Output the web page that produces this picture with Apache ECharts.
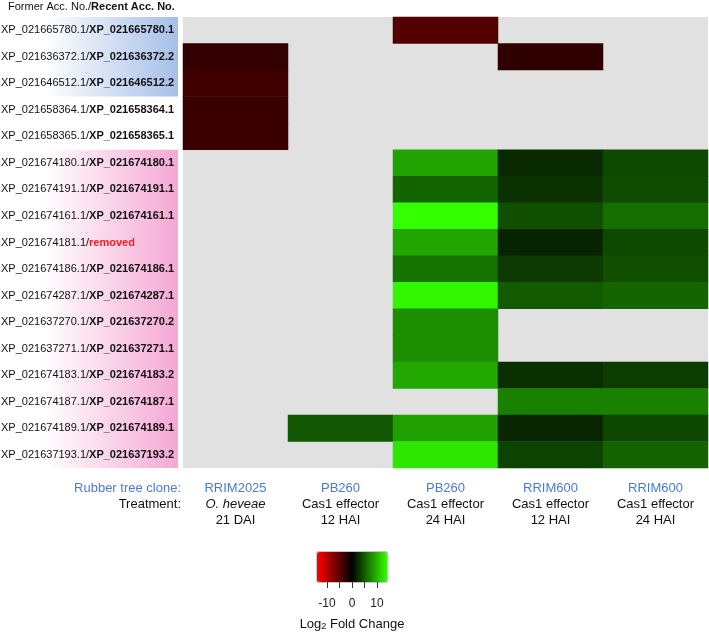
<!DOCTYPE html>
<html>
<head>
<meta charset="UTF-8">
<title>Log2 fold change heatmap</title>
<script src="https://cdn.jsdelivr.net/npm/echarts@6/dist/echarts.min.js"></script>
<style>
  html, body { margin: 0; padding: 0; background: #fff; }
  #main { width: 709px; height: 632px; }
</style>
</head>
<body>
<div id="main"></div>
<script>
// accession numbers, top to bottom
var formerAcc = ['XP_021665780.1', 'XP_021636372.1', 'XP_021646512.1', 'XP_021658364.1', 'XP_021658365.1',
  'XP_021674180.1', 'XP_021674191.1', 'XP_021674161.1', 'XP_021674181.1', 'XP_021674186.1',
  'XP_021674287.1', 'XP_021637270.1', 'XP_021637271.1', 'XP_021674183.1', 'XP_021674187.1',
  'XP_021674189.1', 'XP_021637193.1'];
var recentAcc = ['XP_021665780.1', 'XP_021636372.2', 'XP_021646512.2', 'XP_021658364.1', 'XP_021658365.1',
  'XP_021674180.1', 'XP_021674191.1', 'XP_021674161.1', 'removed', 'XP_021674186.1',
  'XP_021674287.1', 'XP_021637270.2', 'XP_021637271.1', 'XP_021674183.2', 'XP_021674187.1',
  'XP_021674189.1', 'XP_021637193.2'];

// columns
var clones = ['RRIM2025', 'PB260', 'PB260', 'RRIM600', 'RRIM600'];
var treatments = ['O. heveae', 'Cas1 effector', 'Cas1 effector', 'Cas1 effector', 'Cas1 effector'];
var times = ['21 DAI', '12 HAI', '24 HAI', '12 HAI', '24 HAI'];

// log2 fold change per column (null = no data, grey)
var rrim2025_21dai = [null, -2.8, -3.5, -3.2, -3.2, null, null, null, null, null, null, null, null, null, null, null, null];
var pb260_12hai = [null, null, null, null, null, null, null, null, null, null, null, null, null, null, null, 4.7, null];
var pb260_24hai = [-4.5, null, null, null, null, 8.9, 5.5, 14.0, 9.1, 6.3, 13.5, 7.8, 7.8, 9.2, null, 8.8, 12.6];
var rrim600_12hai = [null, -2.6, null, null, null, 2.2, 2.7, 4.3, 2.0, 3.2, 5.0, null, null, 2.5, 7.0, 2.1, 3.7];
var rrim600_24hai = [null, null, null, null, null, 4.0, 4.1, 6.0, 4.0, 4.3, 5.5, null, null, 3.3, 7.1, 3.9, 5.4];
var columnValues = [rrim2025_21dai, pb260_12hai, pb260_24hai, rrim600_12hai, rrim600_24hai];

// colour key
var scaleMin = -14, scaleMax = 14;
var keyTicks = [-10, -5, 0, 5, 10];
var keyLabels = [-10, 0, 10];

var data = [];
columnValues.forEach(function (col, x) {
  col.forEach(function (v, y) {
    if (v !== null) data.push([x, y, v]);
  });
});

var GRID_TOP = 17, GRID_BOTTOM = 164, GRID_LEFT = 183;
var rowH = (632 - GRID_TOP - GRID_BOTTOM) / formerAcc.length;
var FONT = '"Liberation Sans", Arial, Helvetica, sans-serif';
var BLUE = '#4a7bd4';

// shaded label blocks
var bands = [
  { from: 0, to: 2, color: '#a6bfe8' },
  { from: 5, to: 16, color: '#f4a8d4' }
];
var graphics = bands.map(function (b) {
  return {
    type: 'rect',
    shape: { x: 0, y: GRID_TOP + b.from * rowH, width: 178, height: (b.to - b.from + 1) * rowH },
    style: {
      fill: new echarts.graphic.LinearGradient(0, 0, 1, 0, [
        { offset: 0, color: '#ffffff' },
        { offset: 0.25, color: '#ffffff' },
        { offset: 1, color: b.color }
      ])
    },
    z: -1
  };
});
graphics.push({
  type: 'text', x: 181, y: 488,
  style: { text: 'Rubber tree clone:', fill: BLUE, font: '13px ' + FONT, textAlign: 'right', textVerticalAlign: 'middle' }
});
graphics.push({
  type: 'text', x: 181, y: 504,
  style: { text: 'Treatment:', fill: '#111', font: '13px ' + FONT, textAlign: 'right', textVerticalAlign: 'middle' }
});

var chart = echarts.init(document.getElementById('main'));
chart.setOption({
  animation: false,
  textStyle: { fontFamily: FONT },
  title: {
    text: '{a|Former Acc. No./}{b|Recent Acc. No.}',
    left: 8, top: 0, padding: 0,
    textStyle: {
      fontWeight: 'normal',
      rich: {
        a: { fontSize: 11, color: '#111', fontWeight: 'normal', fontFamily: FONT, lineHeight: 13 },
        b: { fontSize: 11, color: '#111', fontWeight: 'bold', fontFamily: FONT, lineHeight: 13 }
      }
    }
  },
  graphic: graphics,
  grid: [
    { left: GRID_LEFT, right: 1, top: GRID_TOP, bottom: GRID_BOTTOM, show: true,
      backgroundColor: '#e1e1e1', borderWidth: 0, outerBoundsMode: 'none' },
    { left: 317, top: 552, width: 70, height: 30, show: true,
      backgroundColor: 'transparent', borderColor: '#8a8a8a', borderWidth: 1, outerBoundsMode: 'none' }
  ],
  xAxis: [
    {
      type: 'category', gridIndex: 0, data: clones, position: 'bottom',
      axisLine: { show: false }, axisTick: { show: false }, splitLine: { show: false },
      axisLabel: {
        margin: 12, interval: 0,
        formatter: function (v, i) {
          var t = i === 0 ? '{ti|' + treatments[i] + '}' : '{t|' + treatments[i] + '}';
          return '{c|' + clones[i] + '}\n' + t + '\n{t|' + times[i] + '}';
        },
        rich: {
          c: { fontSize: 13, lineHeight: 16, color: BLUE, fontFamily: FONT },
          t: { fontSize: 13, lineHeight: 16, color: '#111', fontFamily: FONT },
          ti: { fontSize: 13, lineHeight: 16, color: '#111', fontStyle: 'italic', fontFamily: FONT }
        }
      }
    },
    {
      type: 'value', gridIndex: 1, min: scaleMin, max: scaleMax, position: 'bottom',
      axisLine: { show: false }, splitLine: { show: false },
      axisTick: { show: true, customValues: keyTicks, length: 6, lineStyle: { color: '#333', width: 1 } },
      axisLabel: { customValues: keyLabels, fontSize: 12, color: '#222', margin: 16 },
      name: 'Log{sub|2} Fold Change', nameLocation: 'middle', nameGap: 35,
      nameTextStyle: {
        fontSize: 13, color: '#111', fontFamily: FONT, verticalAlign: 'top',
        rich: {
          sub: { fontSize: 9, color: '#111', fontFamily: FONT, verticalAlign: 'bottom', padding: [5, 0, 0, 0] }
        }
      }
    }
  ],
  yAxis: [
    {
      type: 'category', gridIndex: 0, data: formerAcc, inverse: true,
      axisLine: { show: false }, axisTick: { show: false }, splitLine: { show: false },
      axisLabel: {
        margin: GRID_LEFT - 1, interval: 0, align: 'left',
        formatter: function (v, i) {
          var r = recentAcc[i] === 'removed' ? '{r|removed}' : '{b|' + recentAcc[i] + '}';
          return '{a|' + formerAcc[i] + '/}' + r;
        },
        rich: {
          a: { fontSize: 11, color: '#111', fontFamily: FONT },
          b: { fontSize: 11, color: '#111', fontWeight: 'bold', fontFamily: FONT },
          r: { fontSize: 11, color: '#ff1a1a', fontWeight: 'bold', fontFamily: FONT }
        }
      }
    },
    { type: 'value', gridIndex: 1, show: false, min: 0, max: 1 }
  ],
  visualMap: {
    type: 'continuous', min: scaleMin, max: scaleMax, seriesIndex: 0,
    orient: 'horizontal', left: 317, top: 552, padding: 0,
    itemWidth: 30, itemHeight: 70, calculable: false, text: null, showLabel: false,
    inRange: { color: ['#ff0000', '#000000', '#33ff00'] }
  },
  series: [{
    type: 'heatmap', xAxisIndex: 0, yAxisIndex: 0, data: data,
    label: { show: false },
    emphasis: { disabled: true }
  }]
});
</script>
</body>
</html>
